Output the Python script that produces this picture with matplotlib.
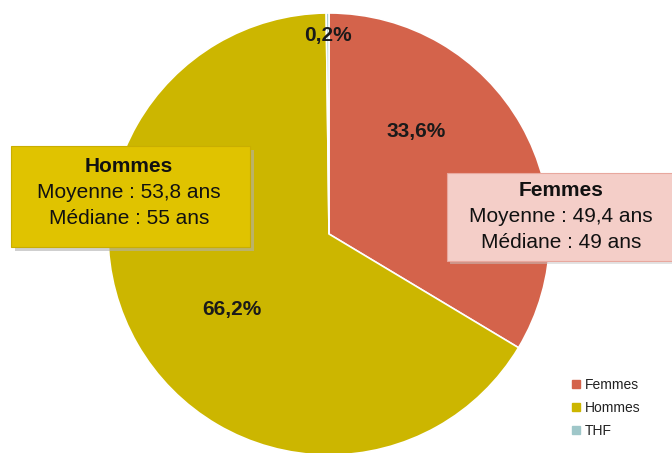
import matplotlib
matplotlib.use("Agg")
import matplotlib.pyplot as plt
from matplotlib.patches import Rectangle
from matplotlib.lines import Line2D

plt.rcParams['font.family'] = ['Liberation Sans', 'DejaVu Sans']

categories = ["Femmes", "Hommes", "THF"]
shares = [33.6, 66.2, 0.2]
share_labels = ["33,6%", "66,2%", "0,2%"]
colors = ["#D4634B", "#CCB600", "#9FC7C9"]
box_titles = ["Femmes", "Hommes"]
box_lines = [["Moyenne : 49,4 ans", "Médiane : 49 ans"],
             ["Moyenne : 53,8 ans", "Médiane : 55 ans"]]

W, H = 672, 453
fig = plt.figure(figsize=(W / 100, H / 100), dpi=100)
ax = fig.add_axes([0, 0, 1, 1])

cx, cy, r = 329, H - 234, 221
wedges, _ = ax.pie(shares, colors=colors, startangle=90, counterclock=False,
                   center=(cx, cy), radius=r, frame=True,
                   wedgeprops=dict(edgecolor='white', linewidth=1.2))
ax.set_xlim(0, W)
ax.set_ylim(0, H)
ax.set_aspect('equal')
ax.axis('off')

lab_kw = dict(ha='center', va='center', fontsize=15, fontweight='bold', color='#1a1a1a')
ax.text(416, H - 131, share_labels[0], **lab_kw)
ax.text(232, H - 309, share_labels[1], **lab_kw)
ax.text(328, H - 35, share_labels[2], **lab_kw)

txt_kw = dict(ha='center', va='center', fontsize=15, color='#111111', zorder=5)

# Hommes box (with shadow)
hx0, hy0, hx1, hy1 = 11, 146, 250, 247
ax.add_patch(Rectangle((hx0 + 4, H - hy1 - 4), hx1 - hx0, hy1 - hy0, facecolor='#b0b0b0', edgecolor='none', alpha=0.6, zorder=3))
ax.add_patch(Rectangle((hx0, H - hy1), hx1 - hx0, hy1 - hy0, facecolor='#E0C300', edgecolor='#C9AE00', linewidth=0.8, zorder=4))
hcx = 129
ax.text(hcx, H - 166, box_titles[1], fontweight='bold', **txt_kw)
ax.text(hcx, H - 192, box_lines[1][0], **txt_kw)
ax.text(hcx, H - 218, box_lines[1][1], **txt_kw)

# Femmes box
fx0, fy0, fx1, fy1 = 447, 173, 680, 261
ax.add_patch(Rectangle((fx0 + 3, H - fy1 - 3), fx1 - fx0, fy1 - fy0, facecolor='#c8c8c8', edgecolor='none', alpha=0.5, zorder=3))
ax.add_patch(Rectangle((fx0, H - fy1), fx1 - fx0, fy1 - fy0, facecolor='#F4CEC8', edgecolor='#E8A89E', linewidth=0.8, zorder=4))
fcx = 561
ax.text(fcx, H - 191, box_titles[0], fontweight='bold', **txt_kw)
ax.text(fcx, H - 217, box_lines[0][0], **txt_kw)
ax.text(fcx, H - 243, box_lines[0][1], **txt_kw)

# legend
handles = [Line2D([0], [0], marker='s', linestyle='none', markersize=5.5,
                  markerfacecolor=c, markeredgecolor=c) for c in colors]
leg = ax.legend(handles, categories, loc='upper left', bbox_to_anchor=(572 / W, 1 - 378 / H),
                bbox_transform=fig.transFigure, frameon=False, fontsize=10,
                handlelength=0.6, handletextpad=0.35, labelspacing=0.65, borderpad=0, borderaxespad=0)
for t in leg.get_texts():
    t.set_color('#222222')

fig.savefig("out.png", dpi=100)
